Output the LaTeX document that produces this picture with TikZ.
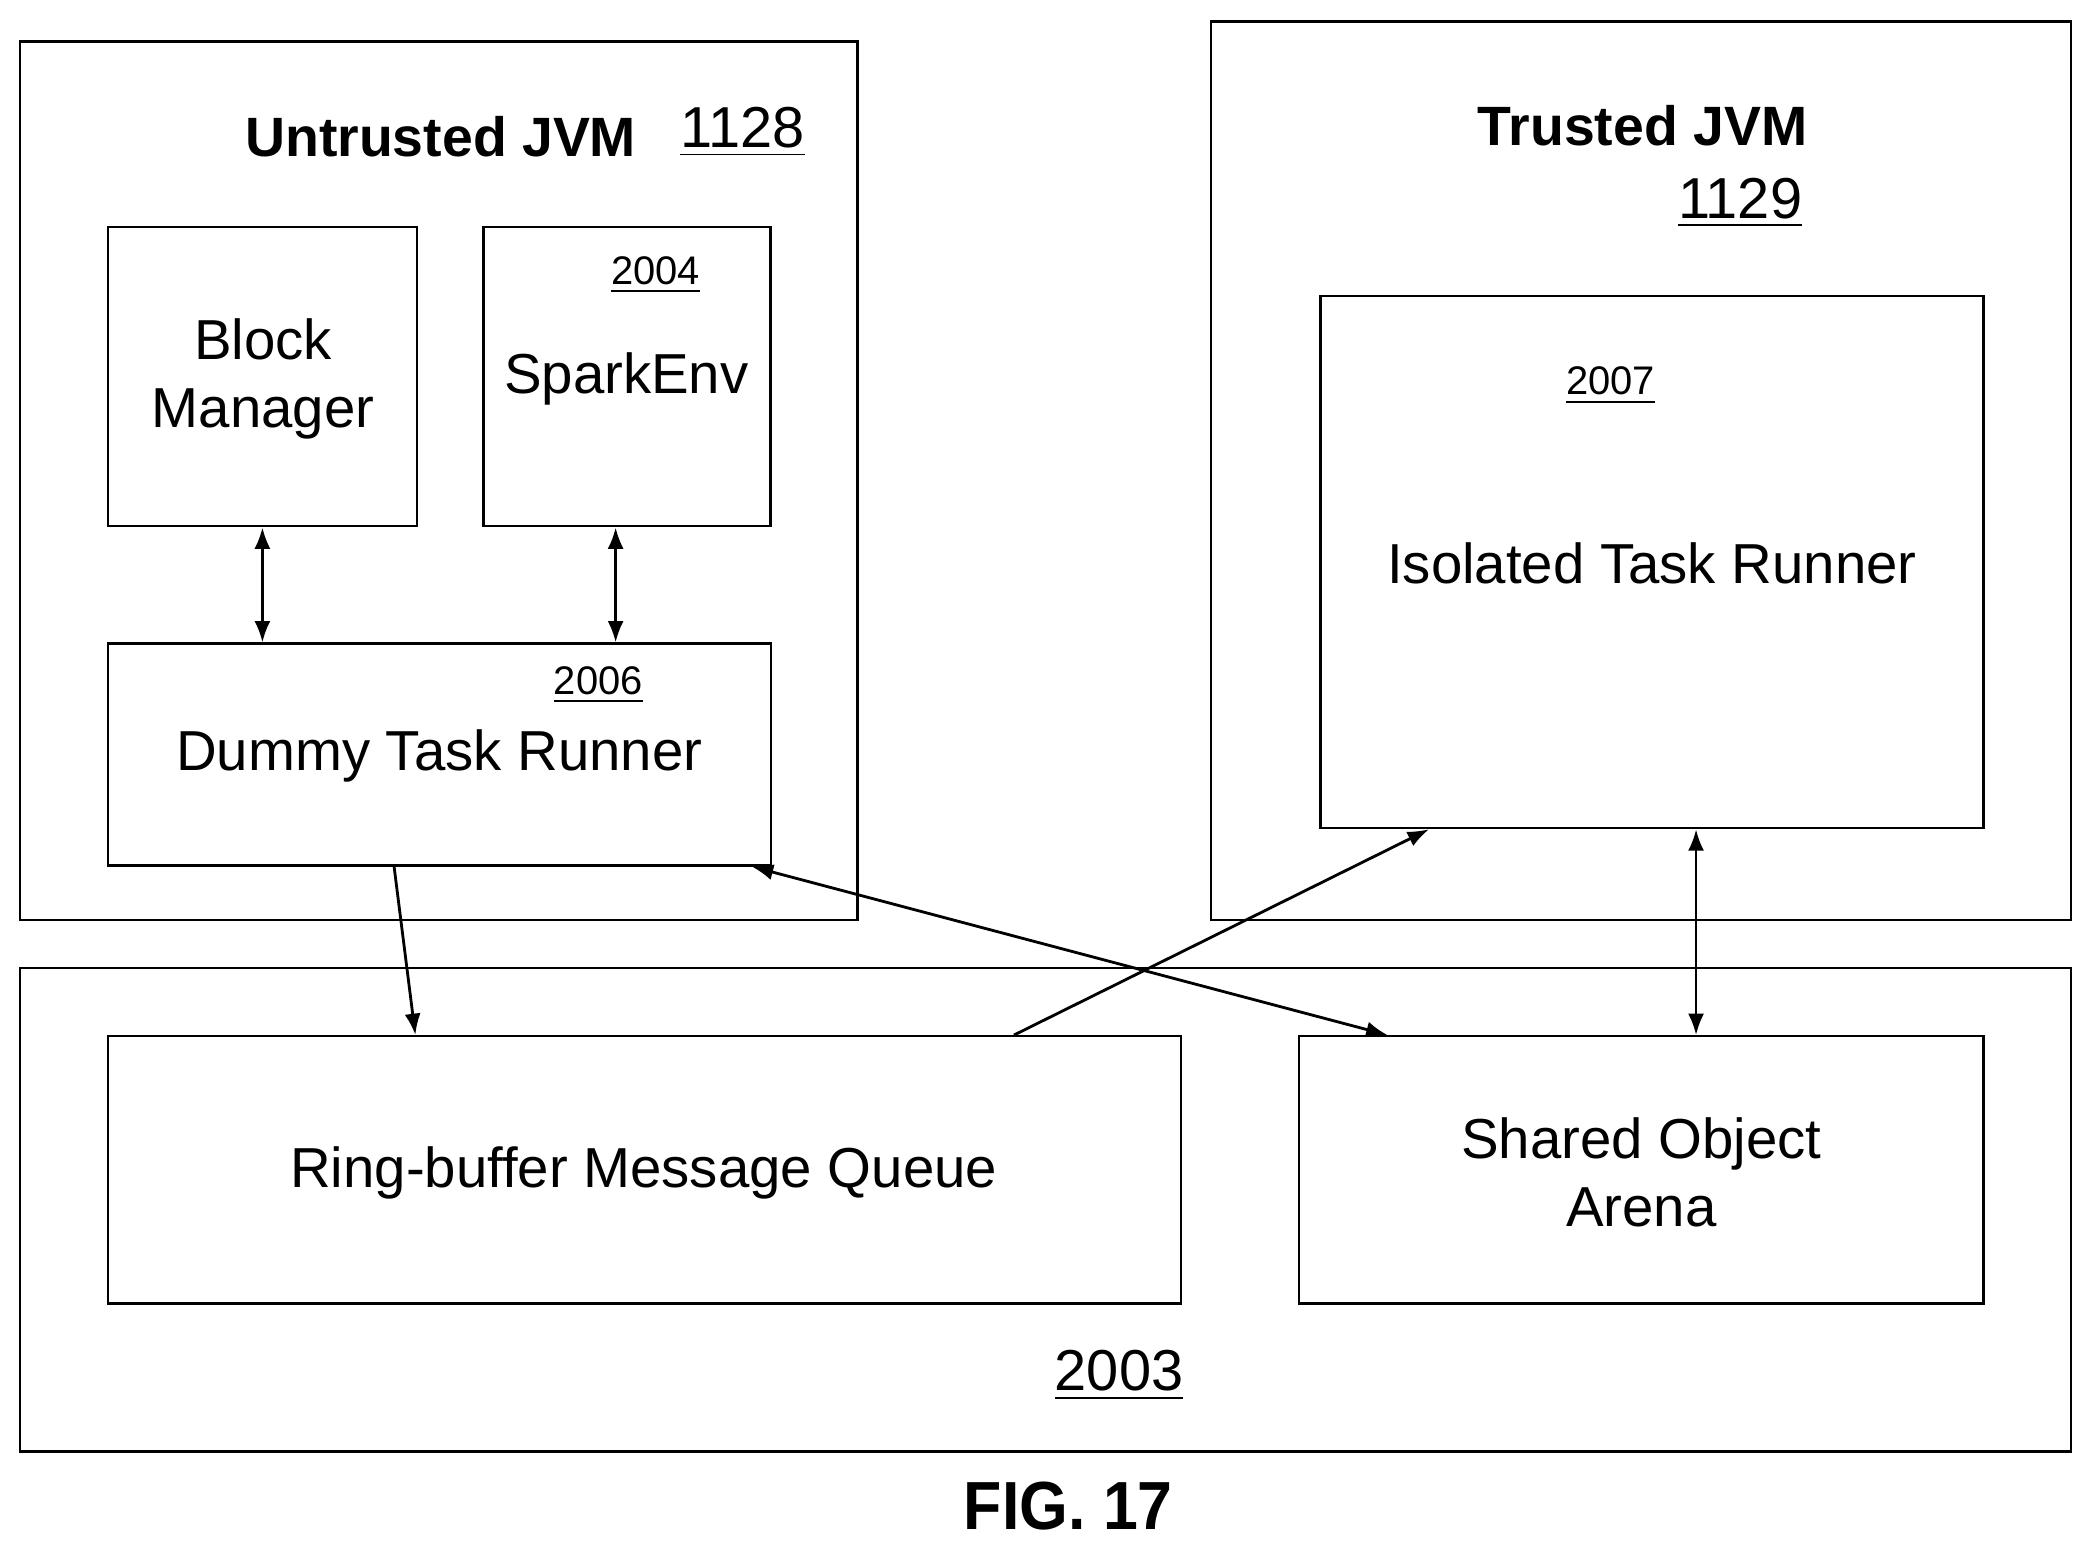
\documentclass[tikz,border=0pt]{standalone}
\usepackage{fontspec}
\setmainfont{Liberation Sans}
\usetikzlibrary{positioning,arrows.meta,calc}
\tikzstyle{box} = [draw,line width=0.5pt,inner sep=0pt]
\tikzstyle{line<>} = [line width=0.6pt,{Latex[length=1.6mm,width=1.2mm]}-{Latex[length=1.6mm,width=1.2mm]}]
\tikzstyle{line>} = [line width=0.6pt,-{Latex[length=1.6mm,width=1.2mm]}]
\tikzstyle{label big} = [font=\fontsize{12}{14.5}\selectfont]
\tikzstyle{label head} = [font=\fontsize{11.8}{14}\selectfont\bfseries]
\tikzstyle{label id} = [font=\fontsize{12.3}{14}\selectfont]
\tikzstyle{label num} = [font=\fontsize{8.5}{10}\selectfont]
\begin{document}
\begin{tikzpicture}[x=0.01cm,y=-0.01cm]
        \useasboundingbox (0,0) rectangle (1568,1164);
        % outer boxes
        \draw[line width=0.5pt] (15,31) rectangle (642,689);
        \draw[line width=0.5pt] (907,16) rectangle (1551,689);
        \draw[line width=0.5pt] (15,725) rectangle (1551,1087);
        % headings
        \node[label head] (untrusted) at (330,102) {Untrusted JVM};
        \node[label id] (n1128) at (556,99) {\underline{1128}};
        \node[label head] (trusted) at (1230,94) {Trusted JVM};
        \node[label id] (n1129) at (1303,152) {\underline{1129}};
        \node[label id] (n2003) at (838,1030) {\underline{2003}};
        % inner boxes
        \node[box,minimum width=2.31cm,minimum height=2.24cm] (bm) at (196.5,282) {};
        \node[label big,align=center] at (197,284) {Block\\Manager};
        \node[box,minimum width=2.15cm,minimum height=2.24cm] (spark) at (469.5,282) {};
        \node[label num] at (491,206) {\underline{2004}};
        \node[label big] at (469,284) {SparkEnv};
        \node[box,minimum width=4.96cm,minimum height=1.66cm] (dummy) at (329,565) {};
        \node[label num] at (448,513) {\underline{2006}};
        \node[label big] at (329,566) {Dummy Task Runner};
        \node[box,minimum width=4.96cm,minimum height=3.98cm] (isolated) at (1237,421) {};
        \node[label num] at (1206,289) {\underline{2007}};
        \node[label big] at (1237,422) {Isolated Task Runner};
        \node[box,minimum width=8.03cm,minimum height=2.0cm] (ring) at (482.5,876) {};
        \node[label big] at (482,878) {Ring-buffer Message Queue};
        \node[box,minimum width=5.12cm,minimum height=2.0cm] (shared) at (1229,876) {};
        \node[label big,align=center] at (1229,878) {Shared Object\\Arena};
        % connectors
        \draw[line<>] (bm.south) -- (bm.south |- dummy.north);
        \draw[line<>] ([xshift=-0.085cm]spark.south) -- ([xshift=-0.085cm]spark.south |- dummy.north);
        \draw[line>] ([xshift=2.15cm]dummy.south west) -- ([xshift=2.31cm]ring.north west);
        \draw[line>] ([xshift=6.79cm]ring.north west) -- ([xshift=0.82cm]isolated.south west);
        \draw[line<>] ([xshift=-0.15cm]dummy.south east) -- ([xshift=0.67cm]shared.north west);
        \draw[line<>] ([xshift=0.33cm]isolated.south) -- ([xshift=0.33cm]isolated.south |- shared.north);
        % caption
        \node[font=\fontsize{14.5}{17}\selectfont\bfseries,xscale=0.92] (fig) at (800,1128) {FIG. 17};
\end{tikzpicture}
\end{document}
